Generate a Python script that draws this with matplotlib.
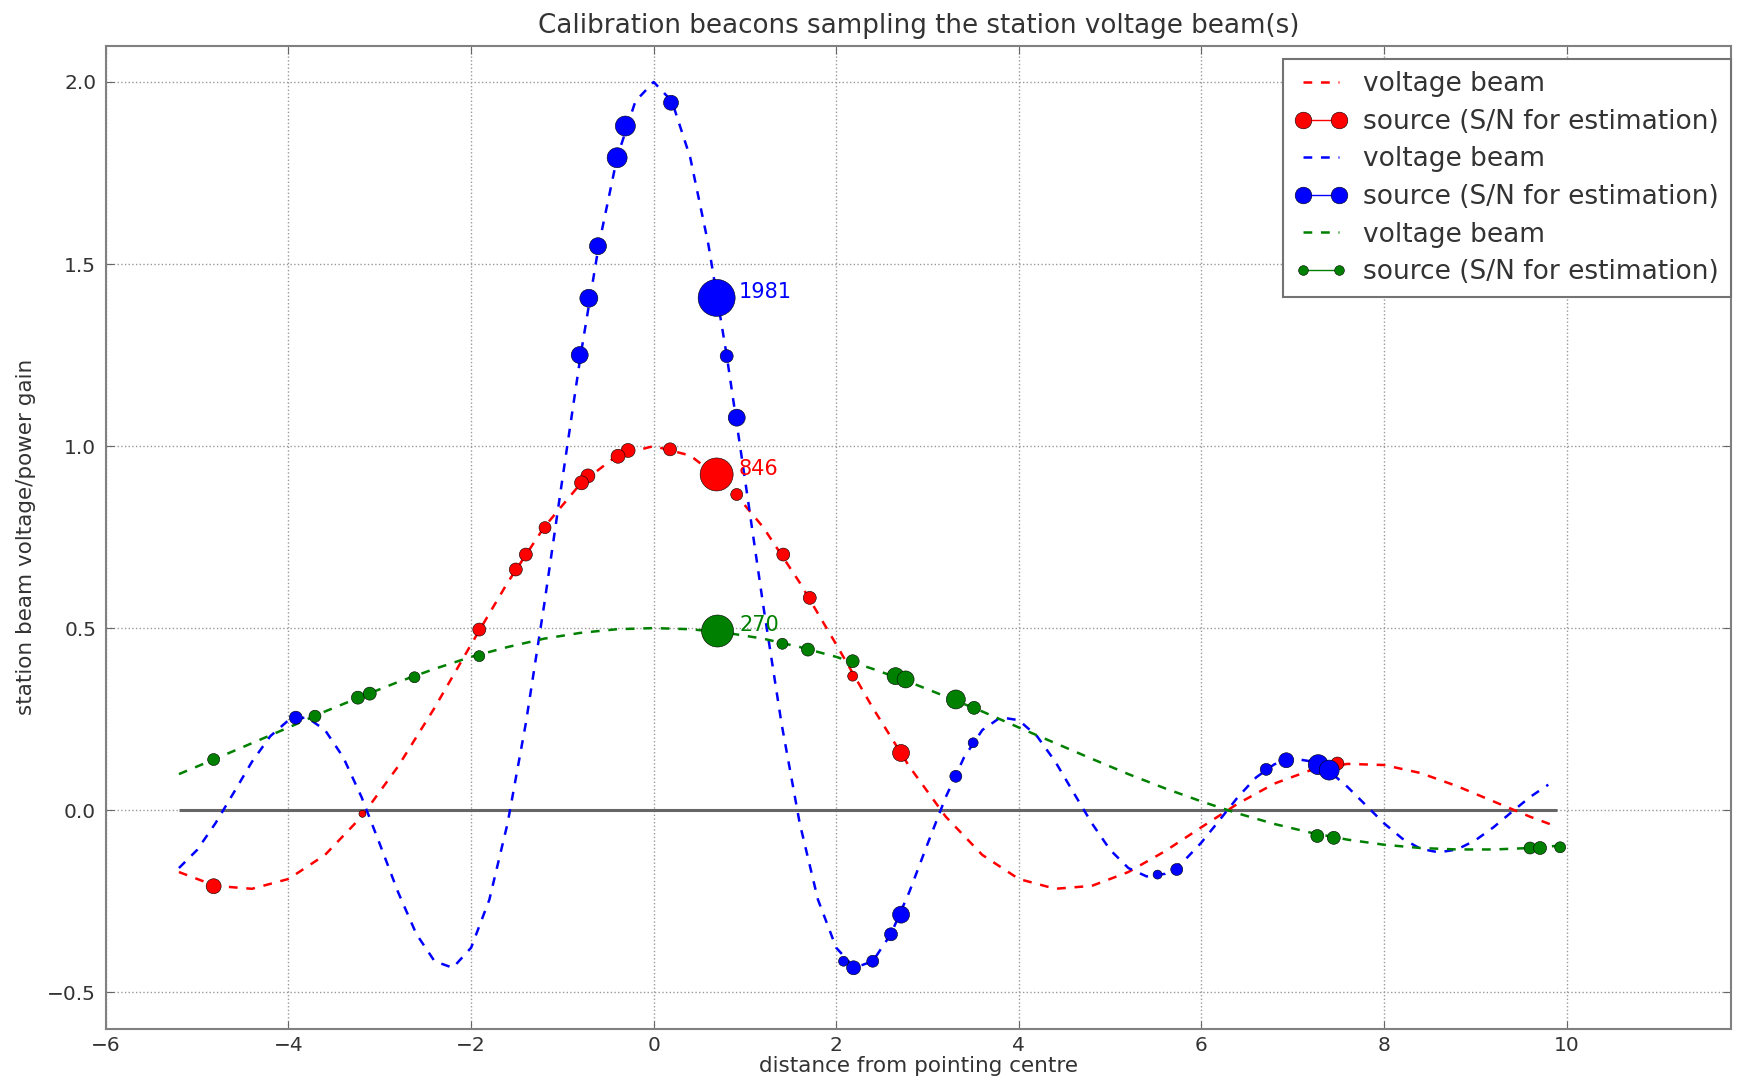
"""Calibration beacons sampling the station voltage beam(s)."""

import matplotlib

matplotlib.use("Agg")
import matplotlib.pyplot as plt
from matplotlib.lines import Line2D

coarse_x = [-5.2, -4.8, -4.4, -4.0, -3.6, -3.2, -2.8, -2.4, -2.0, -1.6, -1.2, -0.8, -0.4,
            0.0, 0.4, 0.8, 1.2, 1.6, 2.0, 2.4, 2.8, 3.2, 3.6, 4.0, 4.4, 4.8, 5.2, 5.6,
            6.0, 6.4, 6.8, 7.2, 7.6, 8.0, 8.4, 8.8, 9.2, 9.6, 9.9]
red_beam = [-0.170, -0.208, -0.216, -0.189, -0.123, -0.018, 0.120, 0.281, 0.455, 0.625,
            0.777, 0.897, 0.974, 1.000, 0.974, 0.897, 0.777, 0.625, 0.455, 0.281, 0.120,
            -0.018, -0.123, -0.189, -0.216, -0.208, -0.170, -0.113, -0.047, 0.018, 0.073,
            0.110, 0.127, 0.124, 0.102, 0.066, 0.024, -0.018, -0.046]
green_beam = [0.099, 0.141, 0.184, 0.227, 0.271, 0.312, 0.352, 0.388, 0.421, 0.448, 0.471,
              0.487, 0.497, 0.500, 0.497, 0.487, 0.471, 0.448, 0.421, 0.388, 0.352, 0.312,
              0.271, 0.227, 0.184, 0.141, 0.099, 0.060, 0.024, -0.009, -0.038, -0.062,
              -0.081, -0.095, -0.104, -0.108, -0.108, -0.104, -0.098]

fine_x = [-5.2, -5.0, -4.8, -4.6, -4.4, -4.2, -4.0, -3.8, -3.6, -3.4, -3.2, -3.0, -2.8,
          -2.6, -2.4, -2.2, -2.0, -1.8, -1.6, -1.4, -1.2, -1.0, -0.8, -0.6, -0.4, -0.2,
          0.0, 0.2, 0.4, 0.6, 0.8, 1.0, 1.2, 1.4, 1.6, 1.8, 2.0, 2.2, 2.4, 2.6, 2.8, 3.0,
          3.2, 3.4, 3.6, 3.8, 4.0, 4.2, 4.4, 4.6, 4.8, 5.0, 5.2, 5.4, 5.6, 5.8, 6.0, 6.2,
          6.4, 6.6, 6.8, 7.0, 7.2, 7.4, 7.6, 7.8, 8.0, 8.2, 8.4, 8.6, 8.8, 9.0, 9.2, 9.4,
          9.6, 9.8]
blue_beam = [-0.159, -0.109, -0.036, 0.048, 0.133, 0.203, 0.247, 0.255, 0.220, 0.145,
             0.036, -0.093, -0.225, -0.340, -0.415, -0.433, -0.378, -0.246, -0.036, 0.239,
             0.563, 0.909, 1.249, 1.553, 1.793, 1.947, 2.000, 1.947, 1.793, 1.553, 1.249,
             0.909, 0.563, 0.239, -0.036, -0.246, -0.378, -0.433, -0.415, -0.340, -0.225,
             -0.093, 0.036, 0.145, 0.220, 0.255, 0.247, 0.203, 0.133, 0.048, -0.036, -0.109,
             -0.159, -0.182, -0.175, -0.142, -0.089, -0.027, 0.036, 0.090, 0.126, 0.142,
             0.134, 0.107, 0.064, 0.014, -0.036, -0.078, -0.106, -0.116, -0.108, -0.083,
             -0.047, -0.005, 0.036, 0.070]

# calibration sources: position, sampled gain, marker diameter (~ S/N)
red_src_x = [0.69, 0.91, 0.18, -0.28, -0.39, -0.72, -0.79, -1.19, -1.40, -1.51, -1.91,
             1.42, 1.71, 2.18, 2.71, -4.82, -3.19, 7.49]
red_src_y = [0.922, 0.867, 0.991, 0.988, 0.972, 0.918, 0.899, 0.776, 0.702, 0.661, 0.496,
             0.702, 0.583, 0.368, 0.157, -0.209, -0.010, 0.128]
red_src_d = [33, 12, 13, 14, 14, 14, 14, 12, 13, 13, 13, 13, 13, 10, 17, 15, 7, 13]

blue_src_x = [0.69, 0.19, -0.31, -0.40, -0.61, -0.71, -0.81, 0.80, 0.91, -3.92, 3.50,
              3.31, 2.71, 2.60, 2.40, 2.19, 2.08, 5.73, 5.52, 6.71, 6.93, 7.28, 7.40]
blue_src_y = [1.407, 1.943, 1.879, 1.792, 1.549, 1.406, 1.250, 1.247, 1.078, 0.254, 0.185,
              0.093, -0.287, -0.341, -0.415, -0.433, -0.415, -0.163, -0.177, 0.112, 0.137,
              0.125, 0.110]
blue_src_d = [37, 15, 20, 20, 17, 18, 17, 13, 17, 13, 10, 12, 17, 13, 12, 14, 10, 12, 9,
              12, 15, 20, 20]

green_src_x = [0.70, 1.41, 1.69, -1.91, -2.62, -3.24, -3.11, -3.71, -4.82, 2.18, 2.65,
               2.76, 3.31, 3.51, 7.27, 7.45, 9.60, 9.71, 9.93]
green_src_y = [0.492, 0.457, 0.441, 0.423, 0.365, 0.309, 0.320, 0.258, 0.139, 0.409, 0.368,
               0.359, 0.304, 0.281, -0.071, -0.076, -0.104, -0.104, -0.102]
green_src_d = [32, 11, 13, 11, 11, 13, 13, 12, 12, 13, 17, 17, 19, 13, 13, 13, 12, 13, 11]

peak_labels = ["846", "1981", "270"]

SERIES = [
    ("r", coarse_x, red_beam, red_src_x, red_src_y, red_src_d),
    ("b", fine_x, blue_beam, blue_src_x, blue_src_y, blue_src_d),
    ("g", coarse_x, green_beam, green_src_x, green_src_y, green_src_d),
]
LEGEND_MS = {"r": 12, "b": 12, "g": 7}
DASH = (0, (3.5, 3.5))


def main() -> None:
    fig = plt.figure(figsize=(17.45, 10.8), dpi=100)
    ax = fig.add_axes([0.0607, 0.0476, 0.9312, 0.9102])
    ax.set_axisbelow(True)
    ax.grid(True, linestyle=":", color="0.6", linewidth=1.0)

    ax.hlines(0, coarse_x[0], coarse_x[-1], color="0.4", linewidth=2.2, zorder=1.5)

    handles, labels = [], []
    for (color, bx, by, sx, sy, sd), text in zip(SERIES, peak_labels):
        ax.plot(bx, by, color=color, linestyle=DASH, linewidth=1.8, zorder=2)
        ax.scatter(sx, sy, s=[(d * 0.72) ** 2 for d in sd], color=color,
                   edgecolors="k", linewidths=0.4, zorder=3)
        ax.annotate(text, xy=(sx[0], sy[0]), xytext=(16, 4), textcoords="offset points",
                    color=color, fontsize=15, va="center")
        handles.append(Line2D([], [], color=color, linestyle=DASH, linewidth=1.8))
        handles.append(Line2D([], [], color=color, marker="o", linestyle="-", linewidth=1.0,
                              markersize=LEGEND_MS[color], markeredgecolor="k",
                              markeredgewidth=0.4))
        labels += ["voltage beam", "source (S/N for estimation)"]

    ax.set_xlim(-6, 11.8)
    ax.set_ylim(-0.6, 2.1)
    ax.set_xticks([-6, -4, -2, 0, 2, 4, 6, 8, 10])
    ax.set_yticks([-0.5, 0.0, 0.5, 1.0, 1.5, 2.0])
    ax.tick_params(direction="in", length=6, top=True, right=True, labelsize=14.5,
                   labelcolor="0.2", color="0.4")
    ax.tick_params(axis="y", pad=7)
    ax.tick_params(axis="x", pad=5)
    for spine in ax.spines.values():
        spine.set_color("0.5")
        spine.set_linewidth(1.5)

    ax.set_title("Calibration beacons sampling the station voltage beam(s)",
                 fontsize=18.8, color="0.2", pad=9)
    ax.set_xlabel("distance from pointing centre", fontsize=15.5, color="0.2", labelpad=1)
    ax.set_ylabel("station beam voltage/power gain", fontsize=15.5, color="0.2", labelpad=8)

    leg = ax.legend(handles, labels, loc="upper right", bbox_to_anchor=(1.0, 0.986),
                    borderaxespad=0.0, numpoints=2, fontsize=19, fancybox=False,
                    framealpha=1.0, edgecolor="0.45", labelspacing=0.44,
                    handlelength=2.0, handletextpad=0.6, borderpad=0.45)
    leg.get_frame().set_linewidth(1.5)
    for t in leg.get_texts():
        t.set_color("0.2")

    fig.savefig("out.png", dpi=100)
    plt.close(fig)


if __name__ == "__main__":
    main()
